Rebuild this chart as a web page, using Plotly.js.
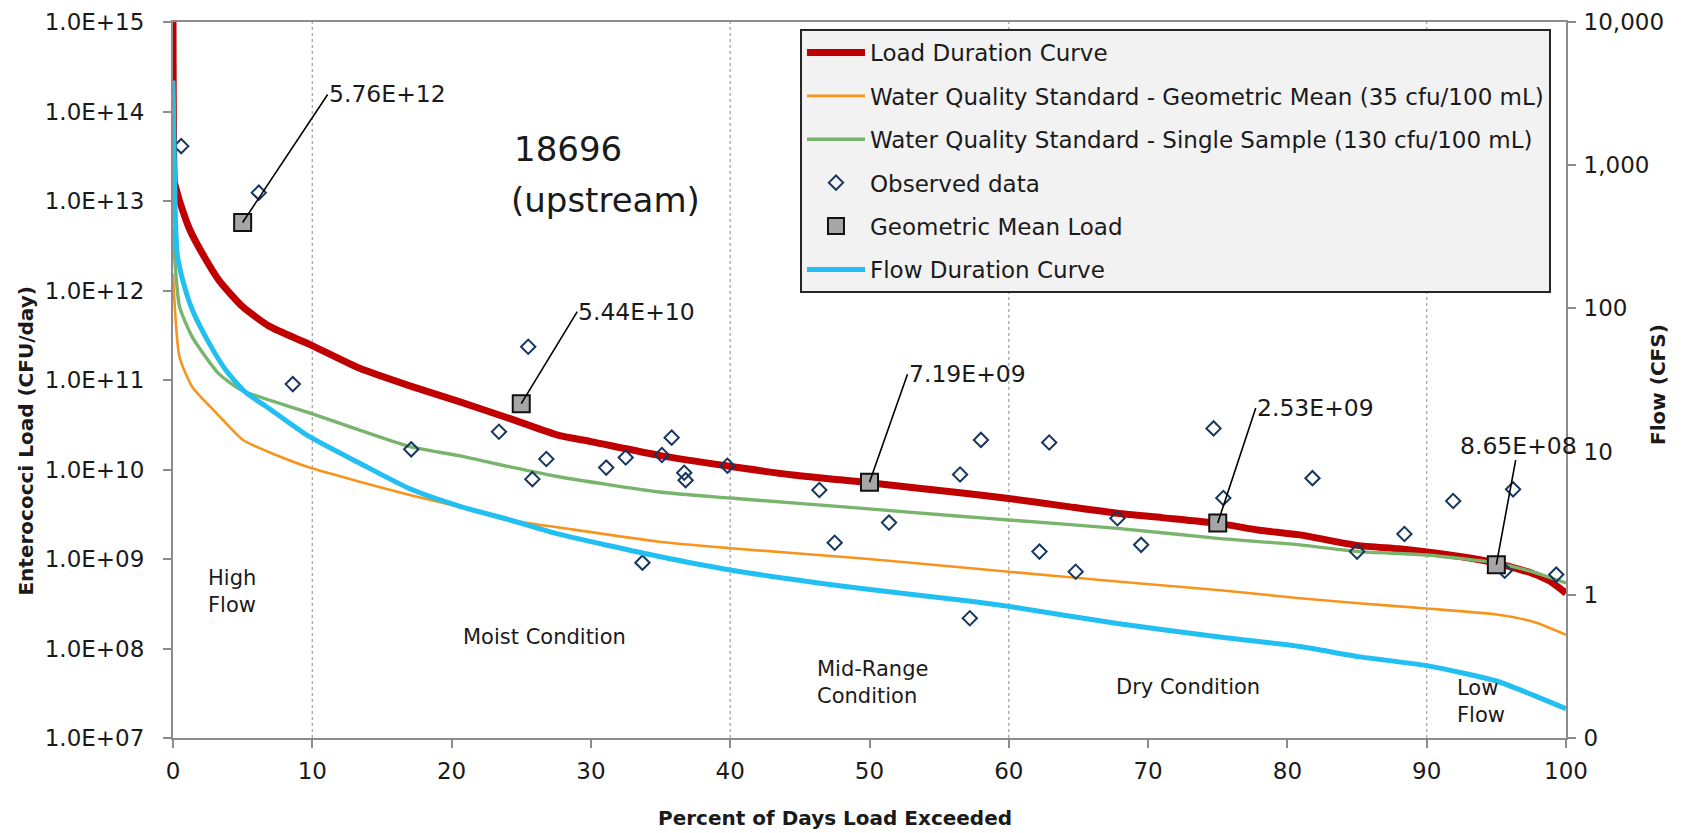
<!DOCTYPE html>
<html>
<head>
<meta charset="utf-8">
<script src="https://cdn.plot.ly/plotly-3.0.1.min.js"></script>
<style>
html,body{margin:0;padding:0;background:#fff;}
#chart{width:1688px;height:833px;}
</style>
</head>
<body>
<div id="chart"></div>
<script>
// ---------------- data ----------------
const ldcPct = [0, 0.1, 0.15, 0.47, 1.2, 2.1, 3.3, 5.0, 6.9, 9.8, 13.4, 17.0, 20.6, 24.2, 27.7, 30, 34.9, 39.7, 44.5, 50, 56.5, 60, 64, 67.8, 71, 75, 78, 80.9, 85, 88, 90, 92.5, 95, 97.6, 98.8, 100];
const ldcVal = [1.0e15, 1.6e13, 1.5e13, 1.0e13, 4.8e12, 2.6e12, 1.3e12, 6.6e11, 4.0e11, 2.5e11, 1.35e11, 8.6e10, 5.7e10, 3.7e10, 2.4e10, 2.05e10, 1.44e10, 1.1e10, 8.7e9, 7.1e9, 5.5e9, 4.75e9, 3.9e9, 3.25e9, 2.9e9, 2.5e9, 2.1e9, 1.86e9, 1.42e9, 1.3e9, 1.2e9, 1.06e9, 9.0e8, 6.9e8, 5.7e8, 4.15e8];

const gmStdPct = [0, 0.47, 1.4, 3.1, 5.0, 7.4, 9.8, 13.4, 17.0, 20.6, 24.2, 27.7, 34.9, 40, 49.3, 56.5, 60, 67.8, 75, 80.9, 85.1, 90, 95, 97.6, 100];
const gmStdVal = [1.55e12, 1.8e11, 8.3e10, 4.3e10, 2.15e10, 1.45e10, 1.05e10, 7.3e9, 5.2e9, 3.8e9, 2.7e9, 2.25e9, 1.56e9, 1.32e9, 1.02e9, 8.1e8, 7.2e8, 5.6e8, 4.5e8, 3.65e8, 3.2e8, 2.8e8, 2.4e8, 2.0e8, 1.42e8];

const ssStdPct = [0, 0.1, 0.47, 1.4, 3.3, 5.0, 9.8, 13.4, 17.0, 20.6, 24.2, 27.7, 34.9, 40, 49.3, 56.5, 60, 67.8, 75, 80.9, 85.1, 90, 95, 97.6, 100];
const ssStdVal = [5.1e12, 2.6e12, 6.6e11, 3.0e11, 1.17e11, 7.6e10, 4.3e10, 2.75e10, 1.8e10, 1.42e10, 1.07e10, 8.3e9, 5.6e9, 4.8e9, 3.7e9, 3.0e9, 2.73e9, 2.2e9, 1.7e9, 1.44e9, 1.21e9, 1.11e9, 9.0e8, 7.2e8, 5.4e8];

const flowPct = [0, 0.15, 0.3, 0.7, 1.4, 2.6, 3.8, 5.2, 6.9, 9.8, 13.4, 17.0, 20.6, 24.2, 27.7, 34.9, 40, 49.3, 56.5, 60, 67.8, 75, 80.9, 85.1, 90, 95, 97.6, 100];
const flowCfs = [3900, 509, 241, 157, 97, 57, 37, 26, 20, 12.7, 8.3, 5.5, 4.15, 3.33, 2.65, 1.85, 1.49, 1.11, 0.92, 0.83, 0.63, 0.51, 0.435, 0.37, 0.32, 0.25, 0.20, 0.16];

const obsPct = [0.59, 6.16, 8.6, 17.1, 23.4, 25.5, 25.8, 26.8, 31.1, 32.5, 33.7, 35.1, 35.8, 36.7, 36.8, 39.8, 46.4, 47.5, 51.4, 56.5, 57.2, 58.0, 62.2, 62.9, 64.8, 67.8, 69.5, 74.7, 75.4, 81.8, 85.0, 88.4, 91.9, 95.6, 96.2, 99.3];
const obsVal = [4.1e13, 1.24e13, 9.0e10, 1.68e10, 2.64e10, 2.35e11, 7.8e9, 1.31e10, 1.05e10, 1.36e10, 9.1e8, 1.45e10, 2.27e10, 9.2e9, 7.6e9, 1.1e10, 5.9e9, 1.52e9, 2.55e9, 8.8e9, 2.18e8, 2.14e10, 1.21e9, 2.0e10, 7.2e8, 2.85e9, 1.44e9, 2.88e10, 4.8e9, 8.0e9, 1.21e9, 1.9e9, 4.45e9, 7.4e8, 6.0e9, 6.7e8];

const gmPct = [5, 25, 50, 75, 95];
const gmVal = [5.76e12, 5.44e10, 7.19e9, 2.53e9, 8.65e8];

const xTickVals = [0, 10, 20, 30, 40, 50, 60, 70, 80, 90, 100];
const yTickVals = [1e7, 1e8, 1e9, 1e10, 1e11, 1e12, 1e13, 1e14, 1e15];
const yTickText = ['1.0E+07', '1.0E+08', '1.0E+09', '1.0E+10', '1.0E+11', '1.0E+12', '1.0E+13', '1.0E+14', '1.0E+15'];
const flowTickVals = [0.1, 1, 10, 100, 1000, 10000];
const flowTickText = ['0', '1', '10', '100', '1,000', '10,000'];

const zoneBounds = [10, 40, 60, 90];
const zoneLabels = ['High<br>Flow', 'Moist Condition', 'Mid-Range<br>Condition', 'Dry Condition', 'Low<br>Flow'];

const seriesNames = [
  'Load Duration Curve',
  'Water Quality Standard - Geometric Mean (35 cfu/100 mL)',
  'Water Quality Standard - Single Sample (130 cfu/100 mL)',
  'Observed data',
  'Geometric Mean Load',
  'Flow Duration Curve'
];
const stationTitle = ['18696', '(upstream)'];
const yTitle = 'Enterococci Load (CFU/day)';
const y2Title = 'Flow (CFS)';
const xTitle = 'Percent of Days Load Exceeded';

// ---------------- styling ----------------
const FONT = 'DejaVu Sans';
const TXT = '#1a1a1a';
const AX = '#8c8c8c';

function sci(v) {
  return v.toExponential(2).toUpperCase().replace(/E([+-])(\d)$/, 'E$10$2');
}

const SMOOTH = {shape: 'spline', smoothing: 0.6};

const traces = [
  {x: ldcPct, y: ldcVal, mode: 'lines', name: seriesNames[0], legendgroup: 'g1',
   line: Object.assign({color: '#C00000', width: 7}, SMOOTH), xaxis: 'x', yaxis: 'y', hoverinfo: 'skip'},
  {x: gmStdPct, y: gmStdVal, mode: 'lines', name: seriesNames[1], legendgroup: 'g2',
   line: Object.assign({color: '#F7941D', width: 2.6}, SMOOTH), xaxis: 'x', yaxis: 'y', hoverinfo: 'skip'},
  {x: ssStdPct, y: ssStdVal, mode: 'lines', name: seriesNames[2], legendgroup: 'g3',
   line: Object.assign({color: '#78B46C', width: 3.4}, SMOOTH), xaxis: 'x', yaxis: 'y', hoverinfo: 'skip'},
  {x: obsPct, y: obsVal, mode: 'markers', name: seriesNames[3], legendgroup: 'g4',
   marker: {symbol: 'diamond-open', size: 11, color: '#17375E', line: {width: 2, color: '#17375E'}},
   xaxis: 'x', yaxis: 'y', hoverinfo: 'skip'},
  {x: gmPct, y: gmVal, mode: 'markers', name: seriesNames[4], legendgroup: 'g5',
   marker: {symbol: 'square', size: 17, color: '#A6A6A6', line: {width: 2, color: '#111'}},
   xaxis: 'x', yaxis: 'y', hoverinfo: 'skip'},
  {x: flowPct, y: flowCfs, mode: 'lines', name: seriesNames[5], legendgroup: 'g6',
   line: Object.assign({color: '#21BFF2', width: 5}, SMOOTH), xaxis: 'x', yaxis: 'y2', hoverinfo: 'skip'}
];

// leader-label offsets (pixels) and anchors
const leaderOffsets = [[85, -128, 'left'], [56, -92, 'left'], [38, -108, 'left'], [38, -115, 'left'], [22, -119, 'center']];
const annotations = [];
gmPct.forEach((p, i) => {
  annotations.push({
    x: p, y: Math.log10(gmVal[i]), xref: 'x', yref: 'y',
    text: sci(gmVal[i]), showarrow: true, arrowhead: 0, arrowwidth: 1.6, arrowcolor: '#000',
    ax: leaderOffsets[i][0], ay: leaderOffsets[i][1], xanchor: leaderOffsets[i][2], yanchor: 'middle',
    standoff: 0, startstandoff: 0, borderpad: 0,
    font: {family: FONT, size: 23.5, color: TXT}
  });
});

// zone labels (x in data units, y in paper units)
const zonePos = [[2.4, 0.2053], [20.7, 0.1406], [46.1, 0.0782], [67.55, 0.0715], [92.0, 0.0511]];
zoneLabels.forEach((t, i) => {
  annotations.push({
    x: zonePos[i][0], y: zonePos[i][1], xref: 'x', yref: 'paper', text: t, showarrow: false,
    xanchor: 'left', yanchor: 'middle', align: 'left',
    font: {family: FONT, size: 21, color: TXT}
  });
});

// station title
annotations.push({x: 0.2431, y: 0.8226, xref: 'paper', yref: 'paper', text: stationTitle[0], showarrow: false,
  xanchor: 'left', yanchor: 'middle', font: {family: FONT, size: 34, color: TXT}});
annotations.push({x: 0.2412, y: 0.7514, xref: 'paper', yref: 'paper', text: stationTitle[1], showarrow: false,
  xanchor: 'left', yanchor: 'middle', font: {family: FONT, size: 34, color: TXT}});

// axis titles
const titleFont = {family: FONT, size: 20, color: TXT, weight: 'bold'};
annotations.push({x: 0.4752, y: -0.1117, xref: 'paper', yref: 'paper', text: xTitle, showarrow: false,
  xanchor: 'center', yanchor: 'middle', font: titleFont});
annotations.push({x: -0.1062, y: 0.4141, xref: 'paper', yref: 'paper', text: yTitle, showarrow: false,
  textangle: -90, xanchor: 'center', yanchor: 'middle', font: titleFont});
annotations.push({x: 1.0660, y: 0.4944, xref: 'paper', yref: 'paper', text: y2Title, showarrow: false,
  textangle: -90, xanchor: 'center', yanchor: 'middle', font: titleFont});

const shapes = zoneBounds.map(b => ({
  type: 'line', xref: 'x', yref: 'paper', x0: b, x1: b, y0: 0, y1: 1, layer: 'below',
  line: {color: '#a6a6a6', width: 1.3, dash: '3px,3px'}
}));

const axCommon = {showgrid: false, zeroline: false, linecolor: AX, linewidth: 2, tickcolor: AX, tickwidth: 2, automargin: false};

const layout = {
  width: 1688, height: 833,
  margin: {l: 173, r: 122, t: 22, b: 95},
  paper_bgcolor: '#fff', plot_bgcolor: '#fff',
  font: {family: FONT, color: TXT, size: 22},
  showlegend: true,
  hovermode: false,
  legend: {x: 0.4501, y: 0.9902, xanchor: 'left', yanchor: 'top', bgcolor: '#f2f2f2',
    bordercolor: '#262626', borderwidth: 2, font: {family: FONT, size: 23, color: TXT},
    itemwidth: 58, traceorder: 'grouped', tracegroupgap: 10.5, itemclick: false, itemdoubleclick: false},
  xaxis: Object.assign({}, axCommon, {
    range: [0, 100], tickmode: 'array', tickvals: xTickVals, ticktext: xTickVals.map(String),
    ticks: 'outside', ticklen: 8, showline: true, mirror: true,
    tickfont: {family: FONT, size: 23, color: TXT}, ticklabelstandoff: 3
  }),
  xaxis2: Object.assign({}, axCommon, {
    range: [0, 100], overlaying: 'x', anchor: 'y', side: 'bottom', tickmode: 'array', tickvals: xTickVals,
    ticks: 'inside', ticklen: 8, showticklabels: false, showline: false
  }),
  yaxis: Object.assign({}, axCommon, {
    type: 'log', range: [7, 15], tickmode: 'array', tickvals: yTickVals, ticktext: yTickText,
    ticks: 'outside', ticklen: 8, showline: true,
    tickfont: {family: FONT, size: 23, color: TXT}, ticklabelstandoff: 14
  }),
  yaxis2: Object.assign({}, axCommon, {
    type: 'log', range: [-1, 4], overlaying: 'y', side: 'right', anchor: 'x',
    tickmode: 'array', tickvals: flowTickVals, ticktext: flowTickText,
    ticks: 'outside', ticklen: 8, showline: true,
    tickfont: {family: FONT, size: 23, color: TXT}, ticklabelstandoff: 3
  }),
  yaxis3: Object.assign({}, axCommon, {
    type: 'log', range: [7, 15], overlaying: 'y', side: 'left', anchor: 'x',
    tickmode: 'array', tickvals: yTickVals, ticks: 'inside', ticklen: 8,
    showticklabels: false, showline: false
  }),
  annotations: annotations,
  shapes: shapes
};

Plotly.newPlot('chart', traces, layout, {displayModeBar: false, staticPlot: true});
</script>
</body>
</html>
